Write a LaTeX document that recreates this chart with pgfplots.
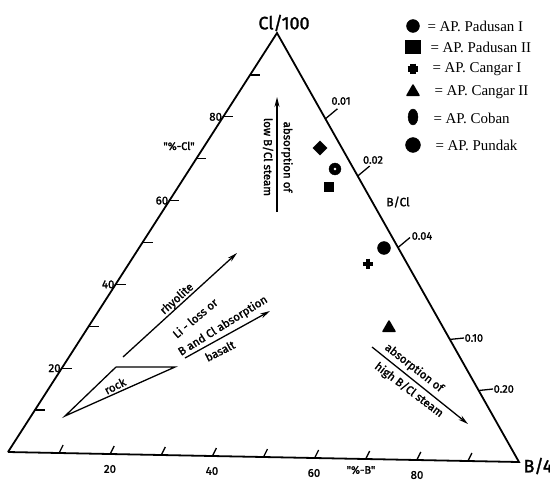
\documentclass[border=0pt]{standalone}
\usepackage{fontspec}
\setmainfont{Liberation Serif}
\newfontfamily\din{Fira Sans}[FakeBold=1.6]
\usepackage{pgfplots}
\pgfplotsset{compat=1.18}
\usetikzlibrary{arrows.meta}
\newcommand{\fs}[1]{\fontsize{#1}{#1}\selectfont}
\begin{document}
\begin{tikzpicture}
\begin{axis}[width=550bp,height=482bp,scale only axis,
  xmin=0,xmax=550,ymin=0,ymax=482,y dir=reverse,hide axis,clip=false]
% triangle frame
\addplot[black,line width=1.8pt,line join=miter] coordinates {(8,452) (519,462) (277,33) (8,452)};
% left ticks
\addplot[black,line width=1.3pt] coordinates {(34.9,410.1) (44.9,410.1)};
\addplot[black,line width=1.3pt] coordinates {(61.8,368.2) (71.8,368.2)};
\addplot[black,line width=1.3pt] coordinates {(88.7,326.3) (98.7,326.3)};
\addplot[black,line width=1.3pt] coordinates {(115.6,284.4) (125.6,284.4)};
\addplot[black,line width=1.3pt] coordinates {(142.5,242.5) (152.5,242.5)};
\addplot[black,line width=1.3pt] coordinates {(169.4,200.6) (179.4,200.6)};
\addplot[black,line width=1.3pt] coordinates {(196.3,158.7) (206.3,158.7)};
\addplot[black,line width=1.3pt] coordinates {(223.2,116.8) (233.2,116.8)};
\addplot[black,line width=1.3pt] coordinates {(250.1,74.9) (260.1,74.9)};
% bottom ticks
\addplot[black,line width=1.3pt] coordinates {(59.1,453) (63.1,445)};
\addplot[black,line width=1.3pt] coordinates {(110.2,454) (114.2,446)};
\addplot[black,line width=1.3pt] coordinates {(161.3,455) (165.3,447)};
\addplot[black,line width=1.3pt] coordinates {(212.4,456) (216.4,448)};
\addplot[black,line width=1.3pt] coordinates {(263.5,457) (267.5,449)};
\addplot[black,line width=1.3pt] coordinates {(314.6,458) (318.6,450)};
\addplot[black,line width=1.3pt] coordinates {(365.7,459) (369.7,451)};
\addplot[black,line width=1.3pt] coordinates {(416.8,460) (420.8,452)};
\addplot[black,line width=1.3pt] coordinates {(467.9,461) (471.9,453)};
% right (B/Cl) ticks
\addplot[black,line width=1.3pt] coordinates {(325.4,118.8) (337.4,108.8)};
\addplot[black,line width=1.3pt] coordinates {(357.7,176.0) (369.7,166.0)};
\addplot[black,line width=1.3pt] coordinates {(398.0,247.5) (410.0,237.5)};
\addplot[black,line width=1.3pt] coordinates {(449.9,339.4) (464.0,338.0)};
\addplot[black,line width=1.3pt] coordinates {(478.7,390.5) (493.0,389.0)};
% rock field
\addplot[black,line width=1.3pt,line join=miter] coordinates {(116,367) (175,367) (65,416) (116,367)};
% arrows
\addplot[black,line width=1.3pt,-{Stealth[length=10pt,width=5pt]}] coordinates {(123,357) (237,253)};
\addplot[black,line width=1.3pt,-{Stealth[length=10pt,width=5pt]}] coordinates {(185,358) (270,311)};
\addplot[black,line width=1.3pt,-{Stealth[length=10pt,width=5pt]}] coordinates {(277,212) (277,97)};
\addplot[black,line width=1.3pt,-{Stealth[length=10pt,width=5pt]}] coordinates {(372,347) (468,424)};
% data points
\addplot[only marks,mark=square*,mark size=5,mark options={rotate=45,fill=black}] coordinates {(320,148)}; % Coban
\addplot[only marks,mark=*,mark size=6,mark options={fill=black}] coordinates {(335,169)}; % Pundak
\addplot[only marks,mark=*,mark size=1.2,mark options={fill=white,draw=white}] coordinates {(335,169)};
\addplot[only marks,mark=square*,mark size=4.5,mark options={fill=black}] coordinates {(329,187)}; % Padusan II
\addplot[only marks,mark=*,mark size=6.5,mark options={fill=black}] coordinates {(384,248)}; % Padusan I
\addplot[only marks,mark=+,mark size=5.5,mark options={line width=5pt}] coordinates {(368,264)}; % Cangar I
\addplot[only marks,mark=triangle*,mark size=7,mark options={fill=black,line join=round,line width=1.5pt}] coordinates {(389,328)}; % Cangar II
% legend markers
\addplot[only marks,mark=*,mark size=6.5,mark options={fill=black}] coordinates {(413,26)};
\addplot[only marks,mark=square*,mark size=7.5,mark options={fill=black,yscale=0.85}] coordinates {(413,47)};
\addplot[only marks,mark=+,mark size=5.5,mark options={line width=5.5pt}] coordinates {(413,69)};
\addplot[only marks,mark=triangle*,mark size=7,mark options={fill=black,line join=round,line width=1.5pt}] coordinates {(413,92)};
\addplot[only marks,mark=*,mark size=8,mark options={fill=black,xscale=0.62}] coordinates {(413,117)};
\addplot[only marks,mark=*,mark size=7.5,mark options={fill=black}] coordinates {(413,145)};
% legend text
\node[anchor=west,font=\fs{15}] at (424,26) {= AP. Padusan I};
\node[anchor=west,font=\fs{15}] at (427,47) {= AP. Padusan II};
\node[anchor=west,font=\fs{15}] at (429,69) {= AP. Cangar I};
\node[anchor=west,font=\fs{15}] at (431,92) {= AP. Cangar II};
\node[anchor=west,font=\fs{15}] at (430,118) {= AP. Coban};
\node[anchor=west,font=\fs{15}] at (432,145) {= AP. Pundak};
% axis labels
\node[font=\din\fs{18}] at (284,23) {Cl/100};
\node[anchor=west,font=\din\fs{18}] at (520,466) {B/4};
\node[font=\din\fs{11}] at (179,146) {"\%-Cl"};
\node[font=\din\fs{11}] at (361,470) {"\%-B"};
\node[font=\din\fs{12}] at (398,202) {B/Cl};
% left tick labels
\node[anchor=east,inner sep=1pt,font=\din\fs{11.5}] at (61.8,368.2) {20};
\node[anchor=east,inner sep=1pt,font=\din\fs{11.5}] at (115.6,284.4) {40};
\node[anchor=east,inner sep=1pt,font=\din\fs{11.5}] at (169.4,200.6) {60};
\node[anchor=east,inner sep=1pt,font=\din\fs{11.5}] at (223.2,116.8) {80};
% bottom tick labels
\node[font=\din\fs{11.5}] at (110,469) {20};
\node[font=\din\fs{11.5}] at (212,471) {40};
\node[font=\din\fs{11.5}] at (314,473) {60};
\node[font=\din\fs{11.5}] at (417,475) {80};
% B/Cl labels
\node[font=\din\fs{11}] at (341,101) {0.01};
\node[font=\din\fs{11}] at (373,160) {0.02};
\node[font=\din\fs{11}] at (422,236) {0.04};
\node[anchor=west,inner sep=0.5pt,font=\din\fs{11}] at (464,338) {0.10};
\node[anchor=west,inner sep=0.5pt,font=\din\fs{11}] at (493,389) {0.20};
% annotations
\node[rotate=27,font=\din\fs{11.5}] at (115,386) {rock};
\node[rotate=42,font=\din\fs{11.5}] at (177,299) {rhyolite};
\node[rotate=40,font=\din\fs{11.5}] at (195,318) {Li - loss or};
\node[rotate=32,font=\din\fs{11.5}] at (223,326) {B and Cl absorption};
\node[rotate=27,font=\din\fs{11.5}] at (220,351) {basalt};
\node[rotate=-90,font=\din\fs{11.5}] at (287,157) {absorption of};
\node[rotate=-90,font=\din\fs{11.5}] at (268,157) {low B/Cl steam};
\node[rotate=-38,font=\din\fs{11.5}] at (414,368) {absorption of};
\node[rotate=-37,font=\din\fs{11.5}] at (409,390) {high B/Cl steam};
\end{axis}
\pgfresetboundingbox
\path (current axis.south west) rectangle (current axis.north east);
\end{tikzpicture}
\end{document}
